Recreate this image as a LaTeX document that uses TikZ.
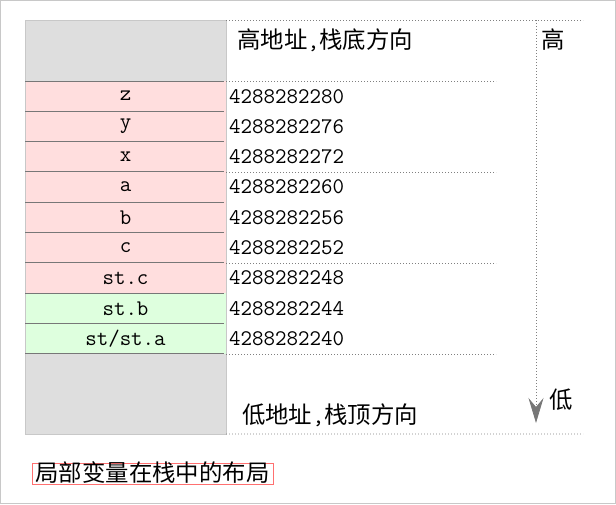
\documentclass[tikz,border=0pt]{standalone}
\usepackage{fontspec}
\newfontfamily\cjk{Noto Sans CJK SC}
\usetikzlibrary{positioning,arrows.meta}

\definecolor{rowred}{HTML}{FFDEDE}
\definecolor{rowgreen}{HTML}{DEFFDE}
\definecolor{rowgray}{HTML}{DEDEDE}
\definecolor{linegray}{HTML}{777777}
\definecolor{edgegray}{HTML}{C8C8C8}
\definecolor{boxred}{HTML}{FF7070}

\tikzstyle{cell} = [rectangle, minimum width=201pt, minimum height=30.33pt, inner sep=0pt, outer sep=0pt, text centered, font=\fontsize{22.3}{24}\ttfamily]
\tikzstyle{local} = [cell, fill=rowred]
\tikzstyle{member} = [cell, fill=rowgreen]
\tikzstyle{spare} = [cell, fill=rowgray]
\tikzstyle{value} = [inner sep=0pt, font=\fontsize{22.3}{24}\ttfamily]
\tikzstyle{rowline} = [linegray, line width=1pt]
\tikzstyle{guide} = [gray, line width=0.8pt, dash pattern=on 0.8pt off 2.2pt]
\tikzstyle{arrow} = [guide, -{Stealth[length=25pt, width=15pt, inset=9pt, linegray]}]
\tikzstyle{note} = [inner sep=0pt, font=\fontsize{23.4}{26}\cjk]

\begin{document}
\begin{tikzpicture}[x=1pt,y=-1pt]

	\def \gap {3pt}
	\def \guidelen {270}

	\useasboundingbox (0,0) rectangle (616,504);
	\draw [edgegray] (0.5,0.5) rectangle (615.5,503.5);

	\node (top) [spare, minimum height=61pt, anchor=north west] at (25,20) {};
	\node (z) [local, below=0pt of top] {z};
	\node (y) [local, below=0pt of z] {y};
	\node (x) [local, below=0pt of y] {x};
	\node (a) [local, below=0pt of x] {a};
	\node (b) [local, below=0pt of a] {b};
	\node (c) [local, below=0pt of b] {c};
	\node (stc) [local, below=0pt of c] {st.c};
	\node (stb) [member, below=0pt of stc] {st.b};
	\node (sta) [member, below=0pt of stb] {st/st.a};
	\node (bottom) [spare, minimum height=80pt, below=0pt of sta] {};
	\draw [edgegray] (top.north west) rectangle (bottom.south east);

	\node (vz) [value, right=\gap of z] {4288282280};
	\node (vy) [value, right=\gap of y] {4288282276};
	\node (vx) [value, right=\gap of x] {4288282272};
	\node (va) [value, right=\gap of a] {4288282260};
	\node (vb) [value, right=\gap of b] {4288282256};
	\node (vc) [value, right=\gap of c] {4288282252};
	\node (vstc) [value, right=\gap of stc] {4288282248};
	\node (vstb) [value, right=\gap of stb] {4288282244};
	\node (vsta) [value, right=\gap of sta] {4288282240};

	\node (hightext) [note, anchor=west] at (237,40) {高地址{\ttfamily,}栈底方向};
	\node (lowtext) [note] at (330,415) {低地址{\ttfamily,}栈顶方向};
	\node (hi) [note] at (553,40) {高};
	\node (lo) [note] at (561,400) {低};
	\node (caption) [note, draw=boxred, text height=18pt, text depth=3pt, minimum width=241pt] at (152.5,473.5) {局部变量在栈中的布局};

	\coordinate (topend) at (583,20);
	\coordinate (botend) at (583,434);
	\coordinate (high) at (536,20);
	\coordinate (low) at (536,423);

	%rows
	\foreach \r in {z,y,x,a,b,c,stc,stb,sta}
		\draw [rowline] (\r.north west) -- ([xshift=-2pt]\r.north east);
	\draw [rowline] (sta.south west) -- ([xshift=-2pt]sta.south east);

	%guides
	\draw [guide] (top.north east) -- (topend);
	\draw [guide] (bottom.south east) -- (botend);
	\foreach \r in {z,a,stc}
		\draw [guide] (\r.north east) -- ++(\guidelen,0);
	\draw [guide] (sta.south east) -- ++(\guidelen,0);
	\draw [arrow] (high) -- (low);

\end{tikzpicture}
\end{document}
